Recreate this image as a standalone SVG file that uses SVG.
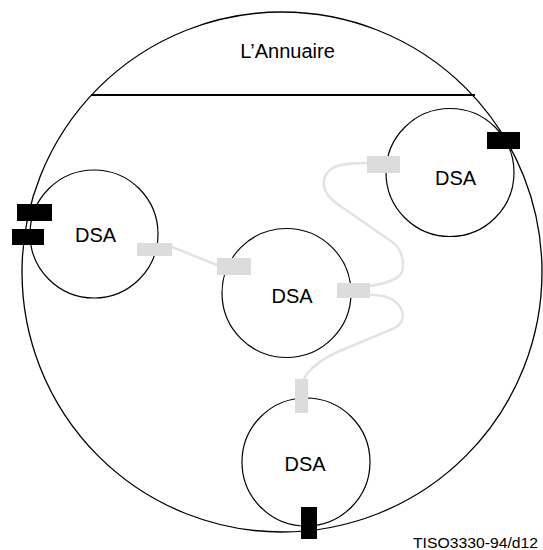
<svg xmlns="http://www.w3.org/2000/svg" width="543" height="550" viewBox="0 0 543 550">
<style>
.outline{fill:none;stroke:#000;stroke-width:1.3}
.dsa{fill:none;stroke:#000;stroke-width:1.2}
.lbl{font-family:"Liberation Sans",Arial,sans-serif;font-size:20px;fill:#000}
.port{fill:#dcdcdc}
.ext{fill:#000}
.link{fill:none;stroke:#e3e3e3;stroke-width:2.5;stroke-linecap:round}
</style>
<rect width="543" height="550" fill="#fff"/>
<g id="directory">
<circle class="outline" cx="282" cy="272" r="260"/>
<line x1="91" y1="95" x2="475" y2="95" stroke="#000" stroke-width="1.8"/>
<text class="lbl" x="287.5" y="57.5" text-anchor="middle">L’Annuaire</text>
</g>
<g id="connectors">
<path class="link" d="M172,247 L217,265"/>
<path class="link" d="M370,286 C395,282 404,276 403,265 C403,250 395,243 385,237 L336,203 C322,193 320,178 330,170 C337,164 350,163 367,163"/>
<path class="link" d="M370,295 C400,293 412,318 395,328 L335,353 C310,365 300,380 302,390"/>
</g>
<g id="dsa-left">
<circle class="dsa" cx="94" cy="234" r="64"/>
<text class="lbl" x="95.5" y="242" text-anchor="middle">DSA</text>
<rect class="port" x="137" y="243" width="35" height="13"/>
<rect class="ext" x="17" y="204" width="35" height="17"/>
<rect class="ext" x="12" y="229" width="32" height="16"/>
</g>
<g id="dsa-middle">
<circle class="dsa" cx="286.5" cy="293" r="64.5"/>
<text class="lbl" x="292" y="303" text-anchor="middle">DSA</text>
<rect class="port" x="217" y="258" width="34" height="17"/>
<rect class="port" x="337" y="283" width="33" height="15"/>
</g>
<g id="dsa-right">
<circle class="dsa" cx="450" cy="172.5" r="64"/>
<text class="lbl" x="455.5" y="184.5" text-anchor="middle">DSA</text>
<rect class="port" x="367" y="156" width="33" height="17"/>
<rect class="ext" x="487" y="132" width="33" height="17"/>
</g>
<g id="dsa-bottom">
<circle class="dsa" cx="306" cy="462" r="64"/>
<text class="lbl" x="305" y="471" text-anchor="middle">DSA</text>
<rect class="port" x="295" y="379" width="13" height="34"/>
<rect class="ext" x="301" y="507" width="16" height="32"/>
</g>
<text x="413" y="548" font-family="Liberation Sans,Arial,sans-serif" font-size="14" textLength="125" lengthAdjust="spacingAndGlyphs" fill="#000">TISO3330-94/d12</text>
</svg>
